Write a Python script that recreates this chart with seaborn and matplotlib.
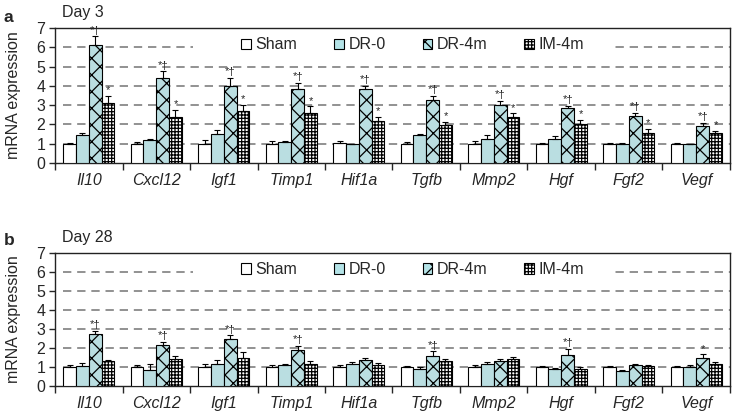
import numpy as np
import pandas as pd
import matplotlib
matplotlib.use("Agg")
import matplotlib.pyplot as plt
import seaborn as sns
from matplotlib.patches import Patch, Rectangle

# genes and groups
genes = ["Il10", "Cxcl12", "Igf1", "Timp1", "Hif1a", "Tgfb", "Mmp2", "Hgf", "Fgf2", "Vegf"]
groups = ["Sham", "DR-0", "DR-4m", "IM-4m"]

# Day 3 means and upper error
sham_d3 = [1.00, 1.00, 1.00, 1.00, 1.05, 1.00, 1.00, 1.00, 1.00, 1.00]
dr0_d3 = [1.45, 1.19, 1.52, 1.08, 0.98, 1.45, 1.27, 1.27, 1.00, 0.96]
dr4_d3 = [6.12, 4.42, 4.01, 3.84, 3.84, 3.26, 3.02, 2.84, 2.44, 1.92]
im4_d3 = [3.10, 2.36, 2.69, 2.60, 2.18, 1.95, 2.36, 2.02, 1.57, 1.54]
sham_d3_err = [0.06, 0.10, 0.19, 0.15, 0.08, 0.07, 0.13, 0.05, 0.06, 0.04]
dr0_d3_err = [0.12, 0.08, 0.18, 0.05, 0.03, 0.07, 0.16, 0.13, 0.03, 0.03]
dr4_d3_err = [0.44, 0.33, 0.39, 0.31, 0.17, 0.23, 0.21, 0.14, 0.16, 0.17]
im4_d3_err = [0.36, 0.40, 0.33, 0.33, 0.23, 0.18, 0.21, 0.20, 0.18, 0.12]

# Day 28 means and upper error
sham_d28 = [0.98, 1.00, 1.00, 1.00, 1.00, 1.00, 1.00, 1.00, 1.00, 1.00]
dr0_d28 = [1.05, 0.84, 1.15, 1.08, 1.15, 0.90, 1.15, 0.89, 0.80, 1.01]
dr4_d28 = [2.73, 2.15, 2.48, 1.89, 1.36, 1.60, 1.33, 1.63, 1.12, 1.47]
im4_d28 = [1.33, 1.40, 1.49, 1.15, 1.08, 1.33, 1.40, 0.89, 1.05, 1.15]
sham_d28_err = [0.10, 0.08, 0.15, 0.10, 0.08, 0.07, 0.10, 0.05, 0.05, 0.05]
dr0_d28_err = [0.17, 0.31, 0.23, 0.07, 0.13, 0.09, 0.13, 0.05, 0.03, 0.07]
dr4_d28_err = [0.17, 0.18, 0.19, 0.21, 0.14, 0.22, 0.10, 0.33, 0.03, 0.19]
im4_d28_err = [0.03, 0.17, 0.28, 0.16, 0.11, 0.07, 0.14, 0.11, 0.03, 0.13]

# significance marks
sig_dr4_d3 = ["*†"] * 10
sig_im4_d3 = ["*"] * 10
sig_dr4_d28 = ["*†", "*†", "*†", "*†", "", "*†", "", "*†", "", "*"]
sig_im4_d28 = [""] * 10

colors = ["white", "#b4e3e7", "#b4e3e7", "white"]
hatches = ["", "", "xx", "+++++"]

sns.set_style("ticks")
plt.rcParams["font.family"] = ["Liberation Sans", "DejaVu Sans"]
plt.rcParams["hatch.linewidth"] = 0.9


def draw_panel(ax, means, errs, sig_dr4, sig_im4):
    df = pd.DataFrame({
        "gene": genes * 4,
        "group": np.repeat(groups, len(genes)),
        "value": np.concatenate(means),
    })
    sns.barplot(data=df, x="gene", y="value", hue="group", order=genes,
                hue_order=groups, palette=colors, edgecolor="black",
                linewidth=0.8, width=0.76, errorbar=None, legend=False,
                ax=ax, zorder=3)
    bar_conts = list(ax.containers)
    for i, cont in enumerate(bar_conts):
        xs, tops = [], []
        for bar in cont:
            bar.set_hatch(hatches[i])
            xs.append(bar.get_x() + bar.get_width() / 2)
            tops.append(bar.get_height())
        e = np.array(errs[i])
        ax.errorbar(xs, tops, yerr=[np.zeros_like(e), e], fmt="none",
                    ecolor="black", elinewidth=0.8, capsize=2.5,
                    capthick=0.8, zorder=4)
        marks = sig_dr4 if i == 2 else sig_im4 if i == 3 else None
        if marks:
            for x, t, ee, m in zip(xs, tops, e, marks):
                if m:
                    ax.annotate(m, (x, t + ee), xytext=(0, 0.5),
                                textcoords="offset points", ha="center",
                                va="bottom", fontsize=8)

    for v in range(1, 7):
        ax.axhline(v, xmin=0.012, color="#7f7f7f", lw=1.2,
                   ls=(0, (5, 3.5)), zorder=1)
    ax.add_patch(Rectangle((0.205, 0.82), 0.62, 0.1, transform=ax.transAxes,
                           facecolor="white", edgecolor="none", zorder=2))

    ax.set_xlim(-0.5, 9.5)
    ax.set_ylim(0, 7)
    ax.set_yticks(range(8))
    ax.set_xticks(np.arange(-0.5, 10, 1), minor=True)
    ax.set_xticklabels(genes, style="italic")
    ax.tick_params(axis="x", which="major", length=0, pad=7, labelsize=11.5)
    ax.tick_params(axis="x", which="minor", length=5, width=1, direction="out")
    ax.tick_params(axis="y", length=4, width=1, labelsize=11.5, pad=3)
    ax.set_xlabel("")
    ax.set_ylabel("mRNA expression", fontsize=11.5)
    ax.yaxis.set_label_coords(-0.051, 0.5)
    for s in ax.spines.values():
        s.set_visible(True)
        s.set_linewidth(1)
        s.set_color("#222222")

    handles = [Patch(facecolor=c, edgecolor="black", hatch=h, lw=0.8)
               for c, h in zip(colors, hatches)]
    ax.legend(handles, groups, ncol=4, loc="center",
              bbox_to_anchor=(0.53, 0.875), frameon=False,
              handlelength=0.6, handleheight=0.6, handletextpad=0.3,
              columnspacing=2.3, fontsize=11.5, borderaxespad=0)


fig = plt.figure(figsize=(7.34, 4.15), dpi=100)
ax1 = fig.add_axes([55 / 734, 1 - 163 / 415, 675 / 734, 135 / 415])
ax2 = fig.add_axes([55 / 734, 1 - 386 / 415, 675 / 734, 133 / 415])

draw_panel(ax1, [sham_d3, dr0_d3, dr4_d3, im4_d3],
           [sham_d3_err, dr0_d3_err, dr4_d3_err, im4_d3_err],
           sig_dr4_d3, sig_im4_d3)
draw_panel(ax2, [sham_d28, dr0_d28, dr4_d28, im4_d28],
           [sham_d28_err, dr0_d28_err, dr4_d28_err, im4_d28_err],
           sig_dr4_d28, sig_im4_d28)

fig.text(4 / 734, 1 - 17 / 415, "a", fontsize=12.5, fontweight="bold", va="center")
fig.text(62 / 734, 1 - 12 / 415, "Day 3", fontsize=11.5, va="center")
fig.text(4 / 734, 1 - 240 / 415, "b", fontsize=12.5, fontweight="bold", va="center")
fig.text(62 / 734, 1 - 237 / 415, "Day 28", fontsize=11.5, va="center")

fig.savefig("out.png", dpi=100)
